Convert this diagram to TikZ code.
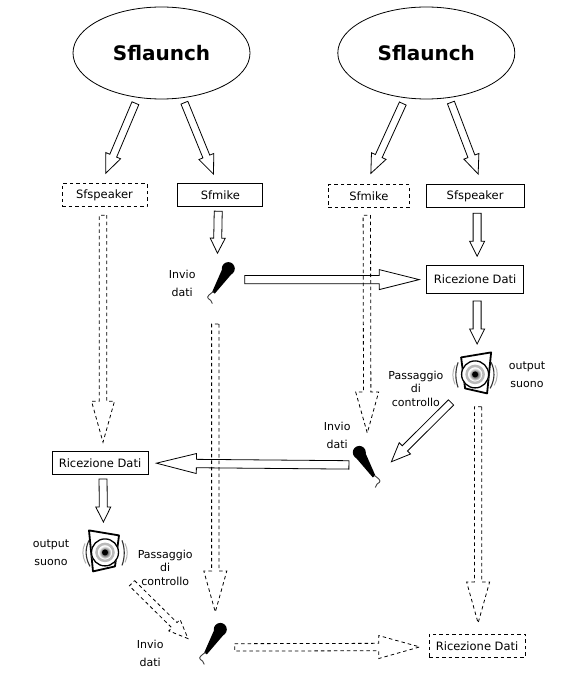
\documentclass[tikz,border=0pt]{standalone}
\usepackage{fontspec}
\setmainfont{DejaVu Sans}
\usepackage{tikz}
\usetikzlibrary{positioning,calc,shapes.geometric}

\tikzset{
    head len/.store in=\arrhl, head wid/.store in=\arrhw, body wid/.store in=\arrbw,
    micro/.pic={
        \fill (8,-15) circle (6.5);
        \fill (3,-17) -- (12.5,-11) -- (-5.5,10) -- (-8,8) -- cycle;
        \draw[gray!50!black, line width=0.9pt] (-7,8) .. controls (-11,11) and (-14,13) .. (-12,15) .. controls (-10,16) and (-9,17) .. (-8,20);
    },
    speaker/.pic={
        \draw[line width=1.8pt, line join=round] (-14,-17) -- (16,-22) -- (12,19) -- (-10,14) -- cycle;
        \fill[white] (0,0) circle (14);
        \draw[line width=1.3pt] (0,0) circle (13.5);
        \draw[gray!55, line width=2.5pt] (0,0) circle (8.5);
        \shade[inner color=black, outer color=white] (0,0) circle (6.5);
        \fill (0,0) circle (3);
        \draw[gray!40!black, line width=1.1pt] (-17,-12) .. controls (-20,-4) and (-20,5) .. (-17,13);
        \draw[gray!60, line width=1pt] (-20,-9) .. controls (-23,-3) and (-23,4) .. (-20,10);
        \draw[gray!40!black, line width=1.1pt] (16,-12) .. controls (20,-4) and (20,5) .. (15,14);
        \draw[gray!60, line width=1pt] (20,-9) .. controls (23,-3) and (23,4) .. (19,11);
    }
}
% from, to, gap at the tail, gap at the tip
\newcommand{\blockarr}[5][]{%
    \draw[#1] let \p1=($(#3)-(#2)$), \n1={atan2(\y1,\x1)}, \n2={veclen(\x1,\y1)} in
    {[shift={(#2)},rotate=\n1] (#4,-\arrbw) -- (\n2-#5-\arrhl,-\arrbw) -- (\n2-#5-\arrhl,-\arrhw) -- (\n2-#5,0)
    -- (\n2-#5-\arrhl,\arrhw) -- (\n2-#5-\arrhl,\arrbw) -- (#4,\arrbw) -- cycle};
}

\begin{document}
\begin{tikzpicture}[
    x=1pt, y=-1pt, line width=0.8pt,
    launch/.style={draw, ellipse, minimum width=177pt, minimum height=92pt, inner sep=0pt, font=\fontsize{20}{22}\selectfont\bfseries},
    box/.style={draw, minimum height=23pt, minimum width=#1, inner sep=0pt, font=\fontsize{11.5}{13}\selectfont},
    dbox/.style={box=#1, dash pattern=on 3.5pt off 3pt},
    icon/.style={minimum width=36pt, minimum height=44pt, inner sep=0pt},
    lbl/.style={align=center, inner sep=0pt, font=\fontsize{11}{18}\selectfont},
    lblnarrow/.style={align=center, inner sep=0pt, font=\fontsize{11}{13.5}\selectfont},
    smallarr/.style={head len=15, head wid=7.5, body wid=4},
    diagarr/.style={head len=19, head wid=8, body wid=3.7},
    longarr/.style={head len=40, head wid=10, body wid=4.2},
    dasharr/.style={head len=41, head wid=11.5, body wid=3.7, dash pattern=on 3.5pt off 3pt}
]
\useasboundingbox (0,0) rectangle (564,692);

\node[launch] (launchA) at (161.5,53) {Sflaunch};
\node[launch, right=87pt of launchA] (launchB) {Sflaunch};

\node[dbox=85pt, below=84pt of launchA, xshift=-57pt] (sfspeakerA) {Sfspeaker};
\node[box=85pt, right=30pt of sfspeakerA] (sfmikeA) {Sfmike};
\node[dbox=81pt, below=85pt of launchB, xshift=-57.5pt] (sfmikeB) {Sfmike};
\node[box=98pt, right=16pt of sfmikeB] (sfspeakerB) {Sfspeaker};

\node[box=97pt, minimum height=28pt, below=57pt of sfspeakerB] (ricB) {Ricezione Dati};
\node[icon, below=54pt of sfmikeA] (micA) {};
\node[icon, below=58pt of ricB] (spkB) {};
\node[icon, left=71pt of spkB, yshift=-93pt] (micB) {};
\node[box=96pt, below=244pt of sfspeakerA, xshift=-4.5pt] (ricA) {Ricezione Dati};
\node[icon, below=55pt of ricA, xshift=5pt] (spkA) {};
\node[icon, below=316pt of micA, xshift=-8pt] (micC) {};
\node[dbox=96pt, below=340pt of ricB, xshift=2pt] (ricC) {Ricezione Dati};

\pic at (micA) {micro};
\pic[xscale=-1] at (micB) {micro};
\pic at (micC) {micro};
\pic at (spkB) {speaker};
\pic[xscale=-1] at (spkA) {speaker};

\node[lbl, left=6pt of micA] (invioA) {Invio\\dati};
\node[lbl, left=-2pt of micB, yshift=32pt] (invioB) {Invio\\dati};
\node[lbl, left=30pt of micC, yshift=-9pt] (invioC) {Invio\\dati};
\node[lbl, right=15pt of spkB] (outputB) {output\\suono};
\node[lbl, left=17pt of spkA] (outputA) {output\\suono};
\node[lblnarrow, left=13pt of spkB, yshift=-14pt] (passB) {Passaggio\\di\\controllo};
\node[lblnarrow, right=14pt of spkA, yshift=-15pt] (passA) {Passaggio\\di\\controllo};

\blockarr[diagarr]{launchA.-118}{[xshift=-3pt]sfspeakerA.north}{6}{11}
\blockarr[diagarr]{launchA.-65}{[xshift=-3pt]sfmikeA.north}{5}{10}
\blockarr[diagarr]{launchB.-115}{[xshift=-3pt]sfmikeB.north}{6}{12}
\blockarr[diagarr]{launchB.-63}{[xshift=7pt]sfspeakerB.north}{5}{11}

\blockarr[dasharr]{[xshift=-1.5pt]sfspeakerA.south}{[xshift=3pt]ricA.north}{8}{9}
\blockarr[smallarr]{[xshift=-2pt]sfmikeA.south}{[xshift=-3pt]micA.north}{4}{8}
\blockarr[longarr]{[yshift=4pt]micA.east}{ricB.west}{6}{7}
\blockarr[dasharr]{[xshift=-2pt]sfmikeB.south}{micB.north}{7}{12}
\blockarr[smallarr]{[xshift=2pt]sfspeakerB.south}{[xshift=2pt]ricB.north}{5}{9}
\blockarr[smallarr]{[xshift=2pt]ricB.south}{[xshift=2pt]spkB.north}{7}{8}
\blockarr[diagarr]{spkB.south west}{micB.east}{8}{8}
\blockarr[dasharr]{[xshift=3pt]spkB.south}{[xshift=1pt]ricC.north}{10}{11}
\blockarr[longarr]{[yshift=2.5pt]micB.west}{ricA.east}{0}{8}
\blockarr[smallarr]{[xshift=3pt]ricA.south}{[xshift=-1.5pt]spkA.north}{4}{8}
\blockarr[dasharr]{[xshift=-5pt]micA.south}{[xshift=3pt]micC.north}{18}{10}
\blockarr[diagarr, dash pattern=on 3.5pt off 3pt]{spkA.south east}{micC.west}{12}{8}
\blockarr[dasharr]{[yshift=-3pt]micC.east}{[yshift=-1pt]ricC.west}{4}{9}
\end{tikzpicture}
\end{document}
